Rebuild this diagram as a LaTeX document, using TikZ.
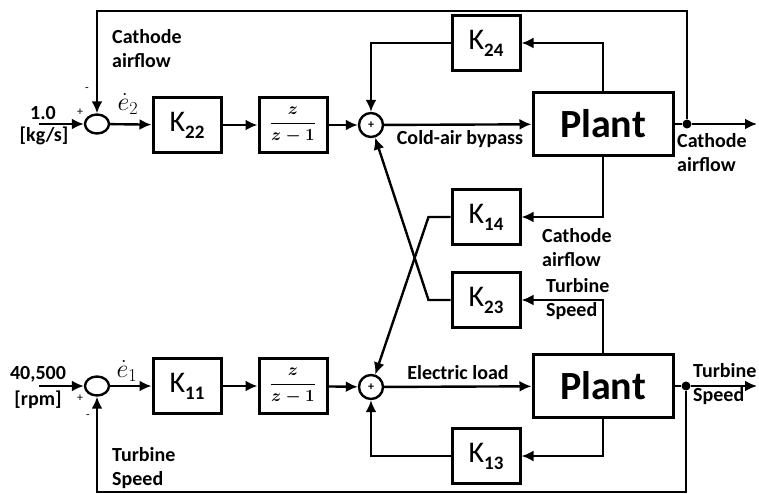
\RequirePackage{fix-cm}
\documentclass[tikz,border=0pt]{standalone}
\usepackage{fontspec}
\setmainfont{Carlito}
\usepackage{amsmath}
\usetikzlibrary{arrows.meta,positioning,shapes.geometric}

\newcommand{\Kgain}[1]{K\raisebox{-7pt}{\fontsize{19}{19}\selectfont\bfseries #1}}

\tikzset{
  blockbox/.style={draw, line width=3pt, minimum width=68pt, minimum height=55pt,
    inner sep=0pt, font=\fontsize{30}{30}\selectfont},
  plantbox/.style={draw, line width=3pt, minimum width=140pt, minimum height=63pt,
    inner sep=0pt, font=\fontsize{40}{40}\selectfont\bfseries},
  sumnode/.style={draw, circle, line width=2.4pt, minimum size=24pt, inner sep=0pt,
    font=\fontsize{12}{12}\selectfont\bfseries},
  inputsum/.style={draw, ellipse, line width=2.4pt, minimum width=24pt,
    minimum height=19pt, inner sep=0pt},
  sig/.style={line width=2.4pt, -{Latex[length=12pt,width=11pt]}},
  wire/.style={line width=2.4pt},
  tap/.style={circle, fill, inner sep=0pt, minimum size=9pt},
  lbl/.style={font=\fontsize{20}{24}\selectfont\bfseries, align=left, inner sep=0pt},
  sgn/.style={font=\fontsize{12}{12}\selectfont, inner sep=0pt},
  errlbl/.style={font=\fontsize{26}{26}\selectfont, inner sep=0pt},
  fraclbl/.style={font=\fontsize{17}{17}\selectfont\boldmath}
}

\begin{document}
\begin{tikzpicture}[x=1pt, y=-1pt]

\useasboundingbox (0,0) rectangle (759,494);

% ================= TOP LOOP: CATHODE AIRFLOW =================
\coordinate (inA) at (39,124);
\node[inputsum] (errA) at (97,124) {};
\node[blockbox] (k22) at (187,125) {\Kgain{22}};
\node[blockbox, fraclbl] (intA) at (293,125) {$\dfrac{z}{z-1}$};
\node[sumnode] (sumA) at (371,125) {+};
\node[plantbox] (plantA) at (603,124) {Plant};
\node[tap] (tapA) at (687,124) {};
\coordinate (outA) at (757,124);
\coordinate (topline) at (400,11);

% ================= CROSS GAINS =================
\node[blockbox] (k24) at (486,43) {\Kgain{24}};
\node[blockbox] (k14) at (486,217) {\Kgain{14}};
\node[blockbox] (k23) at (486,300) {\Kgain{23}};
\node[blockbox] (k13) at (486,456) {\Kgain{13}};

% ================= BOTTOM LOOP: TURBINE SPEED =================
\coordinate (inB) at (39,386);
\node[inputsum] (errB) at (97,386) {};
\node[blockbox] (k11) at (187,386) {\Kgain{11}};
\node[blockbox, fraclbl] (intB) at (293,386) {$\dfrac{z}{z-1}$};
\node[sumnode] (sumB) at (371,387) {+};
\node[plantbox] (plantB) at (603,386) {Plant};
\node[tap] (tapB) at (686,386) {};
\coordinate (outB) at (757,386);
\coordinate (botline) at (400,492);

% --- top forward path ---
\draw[sig] (inA) -- (errA);
\draw[sig] (errA) -- (k22);
\draw[sig] (k22) -- (intA);
\draw[sig] (intA) -- (sumA);
\draw[sig] (sumA) -- (plantA);
\draw[wire] (plantA) -- (tapA);
\draw[sig] (tapA) -- (outA);
\draw[sig] (tapA) -- (tapA |- topline) -| (errA);

% --- bottom forward path ---
\draw[sig] (inB) -- (errB);
\draw[sig] (errB) -- (k11);
\draw[sig] (k11) -- (intB);
\draw[sig] (intB) -- (sumB);
\draw[sig] (sumB) -- (plantB);
\draw[wire] (plantB) -- (tapB);
\draw[sig] (tapB) -- (outB);
\draw[sig] (tapB) -- (tapB |- botline) -| (errB);

% --- decoupling paths ---
\draw[sig] (plantA.north) |- (k24);
\draw[sig] (k24) -| (sumA);
\draw[sig] (plantA.south) |- (k14);
\draw[sig] (k14.west) -- ++(-22,0) -- (sumB);
\draw[sig] (plantB.north) |- (k23);
\draw[sig] (k23.west) -- ++(-22,0) -- (sumA);
\draw[sig] (plantB.south) |- (k13);
\draw[sig] (k13) -| (sumB);

% --- signs and errors ---
\node[sgn] at (80,112) {+};
\node[sgn] at (87,90) {-};
\node[sgn] at (80,398) {+};
\node[sgn] at (88,417) {-};
\node[errlbl] at (128,104) {$\dot{e}_2$};
\node[errlbl] at (127,371) {$\dot{e}_1$};

% --- labels ---
\node[lbl] at (43,113) {1.0};
\node[lbl] at (44,136) {[kg/s]};
\node[lbl] at (38,374) {40,500};
\node[lbl] at (38,400) {[rpm]};
\node[lbl, anchor=west] at (112,49) {Cathode\\airflow};
\node[lbl, anchor=west] at (677,153) {Cathode\\airflow};
\node[lbl, anchor=west] at (542,248) {Cathode\\airflow};
\node[lbl, anchor=west] at (546,299) {Turbine\\Speed};
\node[lbl, anchor=west] at (693,384) {Turbine\\Speed};
\node[lbl, anchor=west] at (112,468) {Turbine\\Speed};
\node[lbl] at (460,139) {Cold-air bypass};
\node[lbl] at (458,373) {Electric load};

\end{tikzpicture}
\end{document}
